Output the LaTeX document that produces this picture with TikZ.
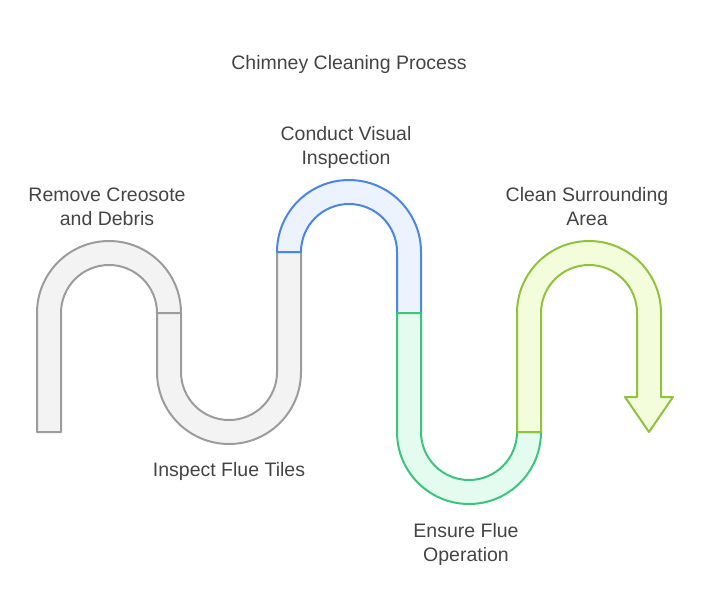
\documentclass[tikz,border=0pt]{standalone}
\usepackage{fontspec}
\setmainfont{Liberation Sans}
\usetikzlibrary{positioning}
\definecolor{ink}{HTML}{444444}
\definecolor{grayline}{HTML}{9C9C9C}
\definecolor{grayfill}{HTML}{F3F3F3}
\definecolor{blueline}{HTML}{4A86E8}
\definecolor{bluefill}{HTML}{ECF2FE}
\definecolor{greenline}{HTML}{3CC47C}
\definecolor{greenfill}{HTML}{E3FCEF}
\definecolor{oliveline}{HTML}{92C13C}
\definecolor{olivefill}{HTML}{F3FDDC}

\begin{document}
\begin{tikzpicture}[
  x=1pt, y=-1pt, line join=round,
  band/.style={line width=2pt},
  lbl/.style={text=ink, align=center, font=\fontsize{19.5}{24}\selectfont, inner sep=0pt}]

\useasboundingbox (0,0) rectangle (704,614);

% segments of the band, left to right
\draw[band, draw=grayline, fill=grayfill]
  (37,432) -- (37,313) arc[start angle=180, end angle=360, radius=72]
  -- (157,313) arc[start angle=0, end angle=-180, radius=48] -- (61,432) -- cycle;
\draw[band, draw=grayline, fill=grayfill]
  (157,313) -- (157,372) arc[start angle=180, end angle=0, radius=72]
  -- (301,252) -- (277,252) -- (277,372) arc[start angle=0, end angle=180, radius=48]
  -- (181,313) -- cycle;
\draw[band, draw=blueline, fill=bluefill]
  (277,252) arc[start angle=180, end angle=360, radius=72]
  -- (421,313) -- (397,313) -- (397,252) arc[start angle=0, end angle=-180, radius=48]
  -- cycle;
\draw[band, draw=greenline, fill=greenfill]
  (397,313) -- (397,432) arc[start angle=180, end angle=0, radius=72]
  -- (517,432) arc[start angle=0, end angle=180, radius=48] -- (421,313) -- cycle;
\draw[band, draw=oliveline, fill=olivefill]
  (517,432) -- (517,313) arc[start angle=180, end angle=360, radius=72]
  -- (661,397) -- (673,397) -- (649,432) -- (625,397) -- (637,397)
  -- (637,313) arc[start angle=0, end angle=-180, radius=48] -- (541,432) -- cycle;

% labels
\node[lbl] (title) at (349,64) {Chimney Cleaning Process};
\node[lbl] (remove) at (107,207) {Remove Creosote\\and Debris};
\node[lbl] (inspect) at (229,471) {Inspect Flue Tiles};
\node[lbl] (visual) at (346,147) {Conduct Visual\\Inspection};
\node[lbl] (ensure) at (466,544) {Ensure Flue\\Operation};
\node[lbl] (clean) at (587,207) {Clean Surrounding\\Area};

\end{tikzpicture}
\end{document}
